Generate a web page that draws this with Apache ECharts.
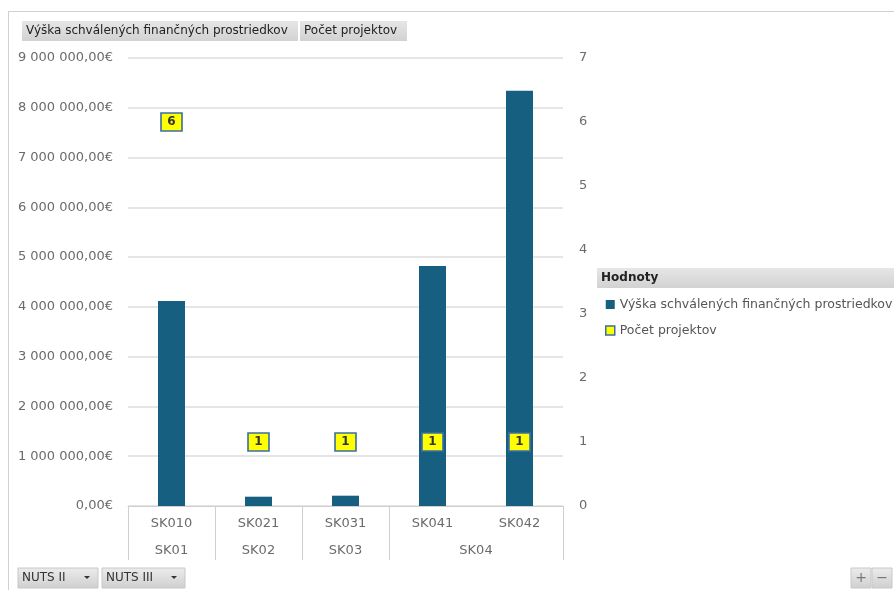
<!DOCTYPE html>
<html><head><meta charset="utf-8">
<script src="https://cdn.jsdelivr.net/npm/echarts@6/dist/echarts.min.js"></script>
<style>html,body{margin:0;padding:0;background:#fff}#c{width:894px;height:590px}</style>
</head><body><div id="c"></div>
<script>
const categories = ['SK010','SK021','SK031','SK041','SK042'];
const groups = ['SK01','SK02','SK03','SK04'];
const groupCenters = [0.5,1.5,2.5,4];
const groupBounds = [0,1,2,3,5];
const amounts = [4120000,187000,207000,4820000,8340000];
const counts = [6,1,1,1,1];
const amountName = 'Výška schválených finančných prostriedkov';
const countName = 'Počet projektov';

const FONT = 'DejaVu Sans';
function fmtEur(v){
  const s = Math.round(v).toString().replace(/\B(?=(\d{3})+(?!\d))/g,' ');
  return s + ',00€';
}
function btn(x,y,w,h,text,arrow){
  const els=[{type:'rect',shape:{x:x,y:y,width:w,height:h},style:{fill:new echarts.graphic.LinearGradient(0,0,0,1,[{offset:0,color:'#ececec'},{offset:1,color:'#cfcfcf'}]),stroke:'#c8c8c8',lineWidth:1}},
    {type:'text',style:{x:x+4,y:y+h/2,text:text,font:'12px '+FONT,fill:'#333',textVerticalAlign:'middle'}}];
  if(arrow) els.push({type:'polygon',shape:{points:[[x+w-14,y+h/2-2],[x+w-8,y+h/2-2],[x+w-11,y+h/2+1]]},style:{fill:'#333'}});
  return els;
}
const chart = echarts.init(document.getElementById('c'));
const graphics = [
  {type:'line',shape:{x1:8,y1:11.5,x2:894,y2:11.5},style:{stroke:'#d0d0d0',lineWidth:1}},
  {type:'line',shape:{x1:8.5,y1:11,x2:8.5,y2:590},style:{stroke:'#d0d0d0',lineWidth:1}},
  {type:'rect',shape:{x:22,y:21,width:276,height:20},style:{fill:new echarts.graphic.LinearGradient(0,0,0,1,[{offset:0,color:'#e6e6e6'},{offset:1,color:'#d2d2d2'}])}},
  {type:'text',style:{x:26,y:31,text:amountName,font:'12px '+FONT,fill:'#222',textVerticalAlign:'middle'}},
  {type:'rect',shape:{x:300,y:21,width:107,height:20},style:{fill:new echarts.graphic.LinearGradient(0,0,0,1,[{offset:0,color:'#e6e6e6'},{offset:1,color:'#d2d2d2'}])}},
  {type:'text',style:{x:304,y:31,text:countName,font:'12px '+FONT,fill:'#222',textVerticalAlign:'middle'}},
  {type:'rect',shape:{x:597,y:268,width:297,height:20},style:{fill:new echarts.graphic.LinearGradient(0,0,0,1,[{offset:0,color:'#e6e6e6'},{offset:1,color:'#d2d2d2'}])}},
  {type:'text',style:{x:601,y:278,text:'Hodnoty',font:'bold 12px '+FONT,fill:'#222',textVerticalAlign:'middle'}},
  ...btn(18,568,80,20,'NUTS II',true),
  ...btn(102,568,83,20,'NUTS III',true),
  ...btn(851,568,20,20,'',false),
  ...btn(872,568,20,20,'',false),
  {type:'text',style:{x:861,y:578,text:'+',font:'14px '+FONT,fill:'#777',textAlign:'center',textVerticalAlign:'middle'}},
  {type:'text',style:{x:882,y:578,text:'−',font:'14px '+FONT,fill:'#777',textAlign:'center',textVerticalAlign:'middle'}}
];
chart.setOption({
  animation:false,
  textStyle:{fontFamily:FONT},
  grid:{left:128,right:331,top:58,bottom:84},
  legend:{orient:'vertical',left:600,top:293,itemGap:13,itemWidth:9,itemHeight:9,icon:'rect',
    textStyle:{color:'#555',fontSize:12.5,fontFamily:FONT},
    data:[{name:amountName,itemStyle:{color:'#175f80',borderWidth:0}},{name:countName,itemStyle:{color:'#ffff00',borderColor:'#3b6fa0',borderWidth:1.5}}]},
  xAxis:[
    {type:'category',data:categories,position:'bottom',boundaryGap:true,
     axisLine:{show:true,lineStyle:{color:'#cfcfcf'}},axisTick:{show:false},
     axisLabel:{color:'#6b6b6b',fontSize:13,margin:11,fontFamily:FONT}},
    {type:'value',min:0,max:5,position:'bottom',
     axisLine:{show:false},splitLine:{show:false},
     axisTick:{show:true,length:54,inside:false,customValues:groupBounds,lineStyle:{color:'#cfcfcf'}},
     axisLabel:{show:true,customValues:groupCenters,margin:38,color:'#6b6b6b',fontSize:13,fontFamily:FONT,
       formatter:function(v){const i=groupCenters.indexOf(v);return i>=0?groups[i]:'';}}}
  ],
  yAxis:[
    {type:'value',min:0,max:9000000,interval:1000000,position:'left',
     axisLine:{show:false},axisTick:{show:false},
     splitLine:{lineStyle:{color:'#dcdcdc',width:1.5}},
     axisLabel:{color:'#6b6b6b',fontSize:13,margin:15,formatter:fmtEur}},
    {type:'value',min:0,max:7,interval:1,position:'right',
     axisLine:{show:false},axisTick:{show:false},splitLine:{show:false},
     axisLabel:{color:'#6b6b6b',fontSize:13,margin:16}}
  ],
  series:[
    {name:amountName,type:'bar',data:amounts,xAxisIndex:0,yAxisIndex:0,barWidth:27,
     itemStyle:{color:'#175f80'}},
    {name:countName,type:'scatter',data:counts,xAxisIndex:0,yAxisIndex:1,symbol:'rect',symbolSize:[21,18],
     itemStyle:{color:'#ffff00',borderColor:'#3b6fa0',borderWidth:1.5,opacity:1},
     label:{show:true,position:'inside',color:'#333',fontWeight:'bold',fontSize:12,fontFamily:FONT},z:5}
  ],
  graphic:graphics
});
</script></body></html>
